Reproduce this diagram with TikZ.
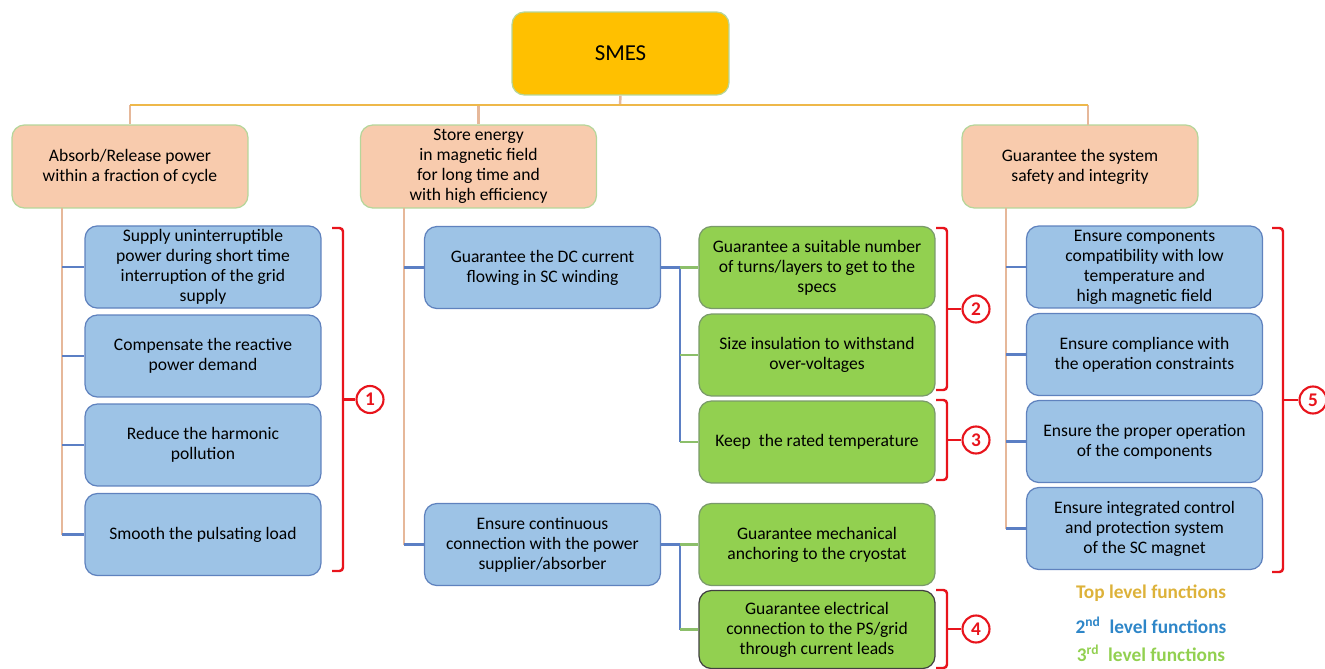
\documentclass[tikz,border=0pt]{standalone}
\usepackage{fontspec}
\setmainfont{Carlito}
\usetikzlibrary{positioning}

\definecolor{smesgold}{HTML}{FFC000}
\definecolor{peach}{HTML}{F8CBAD}
\definecolor{paleedge}{HTML}{B5D69A}
\definecolor{skyblue}{HTML}{9DC3E6}
\definecolor{blueedge}{HTML}{5F82BE}
\definecolor{leafgreen}{HTML}{92D050}
\definecolor{greenedge}{HTML}{7A9A6A}
\definecolor{goldline}{HTML}{EEB84A}
\definecolor{peachline}{HTML}{E6B89A}
\definecolor{blueline}{HTML}{5B7FC4}
\definecolor{greenline}{HTML}{8CBF6A}
\definecolor{markred}{HTML}{E8141C}
\definecolor{legendgold}{HTML}{DDB23A}
\definecolor{legendblue}{HTML}{2E86C8}
\definecolor{legendgreen}{HTML}{92D050}

\newcommand\boxfont{\fontsize{10}{11.4}\selectfont}

% bracket with numbered circle: x, top y, bottom y, number, name, circle offset
\newcommand\funcbracket[6]{%
  \node[numcirc] (#5) at ({#1+#6},{(#2+#3)/2}) {#4};
  \draw[bracketline] (#1,#2) -- ({#1+11},#2) -- ({#1+11},#3) -- (#1,#3);
  \draw[bracketline] ({#1+11},{(#2+#3)/2}) -- (#5.west);
}

\tikzset{
  fbox/.style     = {draw, rounded corners=7pt, align=center, font=\boxfont,
                     inner sep=2pt, line width=0.7pt, text=black},
  topbox/.style   = {fbox, fill=peach, draw=paleedge, minimum width=4.72cm, minimum height=1.66cm},
  secbox/.style   = {fbox, fill=skyblue, draw=blueedge, minimum width=4.72cm, minimum height=1.64cm},
  thrbox/.style   = {fbox, fill=leafgreen, draw=greenedge, minimum width=4.72cm, minimum height=1.64cm},
  goldlink/.style = {goldline, line width=1.4pt},
  toplink/.style  = {peachline, line width=1.4pt},
  seclink/.style  = {blueline, line width=1.2pt},
  thrlink/.style  = {greenline, line width=1.2pt},
  bracketline/.style = {markred, line width=1.4pt, rounded corners=2pt},
  numcirc/.style  = {circle, draw=markred, line width=1.2pt, fill=white, text=markred,
                     minimum size=0.54cm, inner sep=0pt, font=\fontsize{11}{12}\selectfont\bfseries},
  legend/.style   = {font=\fontsize{11}{12}\selectfont\bfseries}
}

\begin{document}
\begin{tikzpicture}[x = 0.02cm, y = -0.02cm]

	\useasboundingbox (0, 0) rectangle (1325, 669);

	% Root

	\node [fbox, fill = smesgold, draw = paleedge, minimum width = 4.34cm, minimum height = 1.66cm,
		font = \fontsize{13}{14}\selectfont] (smes) at (620.5, 53.5) {SMES};

	% Top level functions

	\node [topbox] (absorb) at (130, 166.5) {Absorb/Release power\\within a fraction of cycle};
	\node [topbox] (store) at (478.5, 166.5) {Store energy\\in magnetic field\\for long time and\\with high efficiency};
	\node [topbox] (safety) at (1080, 166.5) {Guarantee the system\\safety and integrity};

	\coordinate (hub) at (620, 105);
	\draw [toplink] (smes.south) -- (hub);
	\draw [toplink] (hub -| absorb.north) -- (absorb.north);
	\draw [toplink] (hub -| store.north) -- (store.north);
	\draw [toplink] (hub -| 1088, 0) -- (1088, 125);
	\draw [goldlink] (hub -| absorb.north) -- (hub -| 1088, 0);

	% Second level, left

	\node [secbox] (supply) at (203, 267) {Supply uninterruptible\\power during short time\\interruption of the grid\\supply};
	\node [secbox] (reactive) at (203, 356) {Compensate the reactive\\power demand};
	\node [secbox] (harmonic) at (203, 445) {Reduce the harmonic\\pollution};
	\node [secbox] (smooth) at (203, 534.5) {Smooth the pulsating load};

	\coordinate (lspine) at (62, 208);
	\draw [toplink] (lspine) -- (lspine |- smooth.west);
	\foreach \n in {supply, reactive, harmonic, smooth}
		\draw [seclink] (lspine |- \n.west) -- (\n.west);

	% Second and third level, middle

	\node [secbox] (dc) at (542.5, 267.5) {Guarantee the DC current\\flowing in SC winding};
	\node [secbox] (cont) at (542.5, 544.5) {Ensure continuous\\connection with the power\\supplier/absorber};

	\coordinate (mspine) at (404, 208);
	\draw [toplink] (mspine) -- (mspine |- cont.west);
	\foreach \n in {dc, cont}
		\draw [seclink] (mspine |- \n.west) -- (\n.west);

	\node [thrbox] (turns) at (817, 267.5) {Guarantee a suitable number\\of turns/layers to get to the\\specs};
	\node [thrbox] (insul) at (817, 355) {Size insulation to withstand\\over-voltages};
	\node [thrbox] (temp) at (817, 442) {Keep~ the rated temperature};
	\node [thrbox] (mech) at (817, 544.5) {Guarantee mechanical\\anchoring to the cryostat};
	\node [thrbox, draw = black!75, minimum height = 1.56cm] (elec) at (817, 629.5) {Guarantee electrical\\connection to the PS/grid\\through current leads};

	\coordinate (dcjoint) at (680, 0);
	\draw [seclink] (dc.east) -- (dc.east -| dcjoint) -- (dcjoint |- temp.west);
	\foreach \n in {turns, insul, temp}
		\draw [thrlink] (dcjoint |- \n.west) -- (\n.west);

	\draw [seclink] (cont.east) -- (cont.east -| dcjoint) -- (dcjoint |- elec.west);
	\foreach \n in {mech, elec}
		\draw [thrlink] (dcjoint |- \n.west) -- (\n.west);

	% Second level, right

	\node [secbox] (compat) at (1144.5, 267) {Ensure components\\compatibility with low\\temperature and\\high magnetic field};
	\node [secbox] (comply) at (1144.5, 354.5) {Ensure compliance with\\the operation constraints};
	\node [secbox] (proper) at (1144.5, 441.5) {Ensure the proper operation\\of the components};
	\node [secbox] (integ) at (1144.5, 528.5) {Ensure integrated control\\and protection system\\of the SC magnet};

	\coordinate (rspine) at (1006, 208);
	\draw [toplink] (rspine) -- (rspine |- integ.west);
	\foreach \n in {compat, comply, proper, integ}
		\draw [seclink] (rspine |- \n.west) -- (\n.west);

	% Brackets

	\funcbracket{332}{228}{571}{1}{mark1}{38}
	\funcbracket{936}{228}{390}{2}{mark2}{40}
	\funcbracket{936}{400}{480}{3}{mark3}{40}
	\funcbracket{936}{590}{668}{4}{mark4}{40}
	\funcbracket{1272}{228}{572}{5}{mark5}{41}

	% Legend

	\node [legend, text = legendgold] (lgtop) at (1151, 593) {Top level functions};
	\node [legend, text = legendblue] (lgsec) at (1151, 625) {2\textsuperscript{nd}~ level functions};
	\node [legend, text = legendgreen] (lgthr) at (1151, 653) {3\textsuperscript{rd}~ level functions};

\end{tikzpicture}
\end{document}
